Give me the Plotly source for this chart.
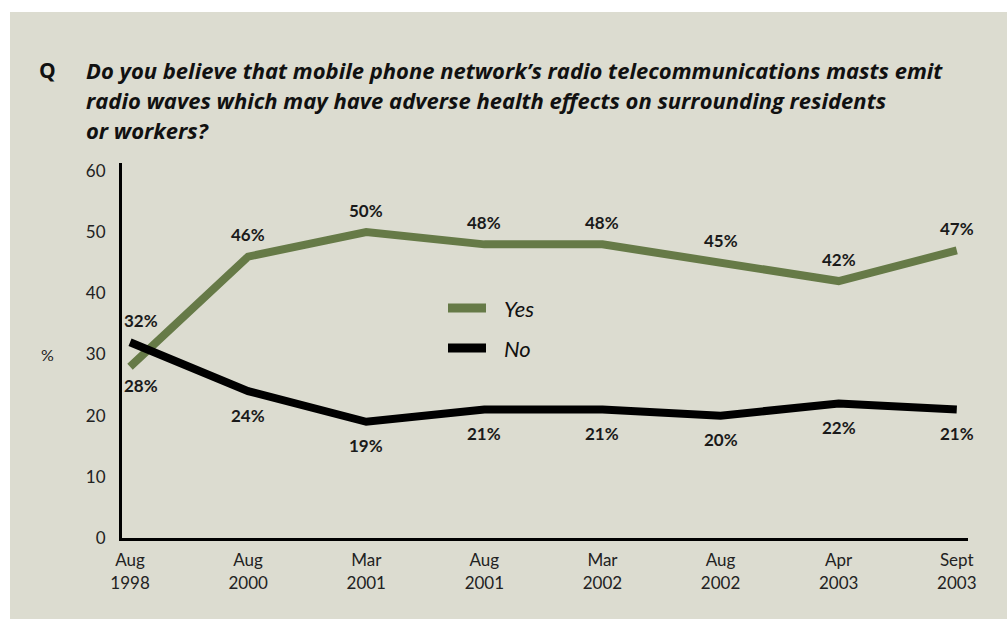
import plotly.graph_objects as go

# Survey waves
waves = ["Aug<br>1998", "Aug<br>2000", "Mar<br>2001", "Aug<br>2001",
         "Mar<br>2002", "Aug<br>2002", "Apr<br>2003", "Sept<br>2003"]
yes_pct = [28, 46, 50, 48, 48, 45, 42, 47]
no_pct = [32, 24, 19, 21, 21, 20, 22, 21]
y_ticks = [0, 10, 20, 30, 40, 50, 60]
question_lines = [
    "Do you believe that mobile phone network’s radio telecommunications masts emit",
    "radio waves which may have adverse health effects on surrounding residents",
    "or workers?",
]

GREEN = "#667a47"
BLACK = "#000000"
BG = "#dcdcd0"
FONT = "Lato"
TFONT = "Open Sans"

W, H = 1007, 619
ML, MR, MT, MB = 122, 39, 163, 81
PW, PH = W - ML - MR, H - MT - MB


def px(x):
    return (x - ML) / PW


def py(y):
    return (H - MB - y) / PH


x_idx = list(range(len(waves)))

fig = go.Figure()
fig.add_trace(go.Scatter(x=x_idx, y=yes_pct, mode="lines", name="Yes",
                         line=dict(color=GREEN, width=8), hoverinfo="skip"))
fig.add_trace(go.Scatter(x=x_idx, y=no_pct, mode="lines", name="No",
                         line=dict(color=BLACK, width=8), hoverinfo="skip"))

label_font = dict(family=FONT, size=17, color="#1a1a1a", weight="bold")
annotations = []
# value labels: Yes above the line, No below (first wave swapped)
for i, v in enumerate(yes_pct):
    annotations.append(dict(x=i + (0.09 if i == 0 else 0), y=v, text=f"{v}%",
                            showarrow=False, yshift=-19 if i == 0 else 22,
                            font=label_font))
for i, v in enumerate(no_pct):
    annotations.append(dict(x=i + (0.09 if i == 0 else 0), y=v, text=f"{v}%",
                            showarrow=False, yshift=22 if i == 0 else -24,
                            font=label_font))

# question
annotations.append(dict(xref="paper", yref="paper", x=px(47), y=py(70),
                        xanchor="center", yanchor="middle", showarrow=False,
                        text="<b>Q</b>",
                        font=dict(family=TFONT, size=21, color="#111")))
for k, line in enumerate(question_lines):
    annotations.append(dict(xref="paper", yref="paper", x=px(84),
                            y=py(70 + 30 * k), xanchor="left",
                            yanchor="middle", showarrow=False,
                            text=f"<b><i>{line}</i></b>",
                            font=dict(family=TFONT, size=22, color="#111")))
# axis unit
annotations.append(dict(xref="paper", yref="y", x=px(47), y=30,
                        xanchor="center", showarrow=False, text="%",
                        font=dict(family=FONT, size=16, color="#222")))

# legend
shapes = []
for name, color, yy in [("Yes", GREEN, 308), ("No", BLACK, 348)]:
    shapes.append(dict(type="line", xref="paper", yref="paper",
                       x0=px(448), x1=px(486), y0=py(yy), y1=py(yy),
                       line=dict(color=color, width=9)))
    annotations.append(dict(xref="paper", yref="paper", x=px(502), y=py(yy),
                            xanchor="left", yanchor="middle",
                            showarrow=False, text=f"<i>{name}</i>",
                            font=dict(family=FONT, size=22, color="#111")))

# white frame strips along the top and left edges
shapes.append(dict(type="rect", xref="paper", yref="paper", layer="below",
                   x0=px(0), x1=px(W), y0=py(12), y1=py(0),
                   fillcolor="white", line=dict(width=0)))
shapes.append(dict(type="rect", xref="paper", yref="paper", layer="below",
                   x0=px(0), x1=px(10), y0=py(H), y1=py(0),
                   fillcolor="white", line=dict(width=0)))

fig.update_layout(
    width=W, height=H,
    margin=dict(l=ML, r=MR, t=MT, b=MB),
    paper_bgcolor=BG, plot_bgcolor=BG,
    showlegend=False,
    annotations=annotations,
    shapes=shapes,
    xaxis=dict(range=[-0.068, 7.095], tickvals=x_idx, ticktext=waves,
               showgrid=False, zeroline=False, showline=True,
               linecolor=BLACK, linewidth=3, ticks="", ticklabelstandoff=5,
               tickfont=dict(family=FONT, size=17, color="#222")),
    yaxis=dict(range=[0, 61.3], tickvals=y_ticks, showgrid=False,
               zeroline=False, showline=True, linecolor=BLACK, linewidth=3,
               ticks="", ticklabelstandoff=10,
               tickfont=dict(family=FONT, size=17, color="#222")),
)

fig.write_html("out.html")
